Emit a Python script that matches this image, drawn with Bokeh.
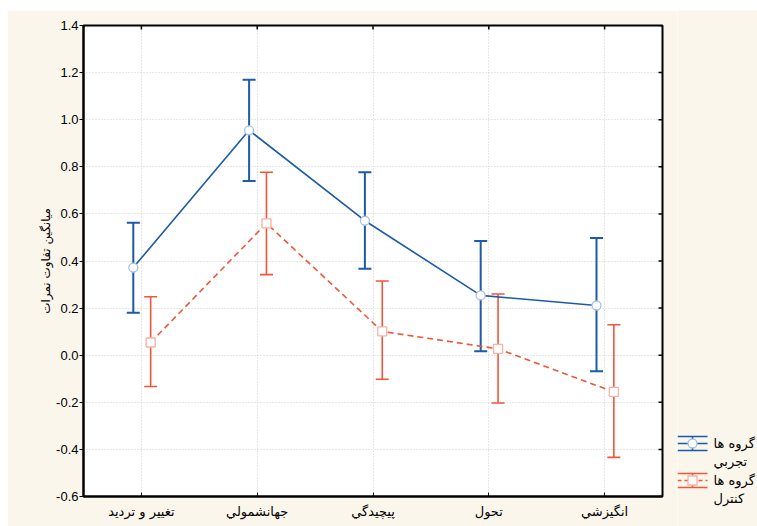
import math
from bokeh.plotting import figure
from bokeh.models import (Range1d, FixedTicker, Whisker, TeeHead, ColumnDataSource,
                          NumeralTickFormatter, Label)
from bokeh.layouts import row, column
from bokeh.embed import file_html
from bokeh.resources import INLINE

# ---------------- data ----------------
categories = ["تغيير و ترديد", "جهانشمولي", "پيچيدگي", "تحول", "انگيزشي"]
exp_mean = [0.372, 0.955, 0.571, 0.254, 0.211]
exp_upper = [0.562, 1.170, 0.777, 0.485, 0.498]
exp_lower = [0.180, 0.740, 0.367, 0.017, -0.068]
ctl_mean = [0.054, 0.560, 0.101, 0.027, -0.156]
ctl_upper = [0.248, 0.777, 0.315, 0.260, 0.129]
ctl_lower = [-0.133, 0.342, -0.102, -0.203, -0.434]
y_ticks = [-0.6, -0.4, -0.2, 0.0, 0.2, 0.4, 0.6, 0.8, 1.0, 1.2, 1.4]
y_label = "ميانگين تفاوت نمرات"
legend_labels = [("گروه ها", "تجربي"), ("گروه ها", "کنترل")]

BLUE = "#1c5aab"
RED = "#f0563a"
BLUE_LIGHT = "#a8c0e2"
RED_LIGHT = "#f6b2a3"
BG = "#fbf6ec"
FA_FONT = "DejaVu Sans"

pos = list(range(1, len(categories) + 1))
exp_x = [p - 0.07 for p in pos]
ctl_x = [p + 0.08 for p in pos]
X0, X1, Y0, Y1 = 0.5, 5.5, -0.6, 1.4

H = 516
p = figure(width=670, height=H, output_backend="svg", toolbar_location=None,
           x_range=Range1d(X0, X1), y_range=Range1d(Y0, Y1),
           min_border_left=76, min_border_top=15, min_border_right=15, min_border_bottom=30,
           x_axis_location="below", y_axis_location="left")
p.background_fill_color = "white"
p.border_fill_color = BG
p.outline_line_color = "black"
p.outline_line_width = 2

# axes
p.xaxis.ticker = FixedTicker(ticks=pos)
p.xaxis.major_label_overrides = {i: c for i, c in zip(pos, categories)}
p.xaxis.major_label_text_font = FA_FONT
p.xaxis.major_label_text_font_size = "13px"
p.xaxis.major_label_text_color = "black"
p.xaxis.major_label_standoff = 7
p.xaxis.major_tick_in = 4
p.xaxis.major_tick_out = 0
p.xaxis.minor_tick_line_color = None
p.xaxis.axis_line_width = 2
p.xaxis.axis_line_color = "black"

p.yaxis.ticker = FixedTicker(ticks=y_ticks)
p.yaxis.formatter = NumeralTickFormatter(format="0.0")
p.yaxis.major_label_text_font = "Liberation Sans"
p.yaxis.major_label_text_font_size = "13px"
p.yaxis.major_label_text_color = "black"
p.yaxis.major_tick_in = 0
p.yaxis.major_tick_out = 4
p.yaxis.major_label_standoff = 1
p.yaxis.minor_tick_line_color = None
p.yaxis.axis_line_width = 2
p.yaxis.axis_line_color = "black"
p.yaxis.axis_label = y_label
p.yaxis.axis_label_text_font = FA_FONT
p.yaxis.axis_label_text_font_style = "normal"
p.yaxis.axis_label_text_font_size = "12px"
p.yaxis.axis_label_text_color = "black"
p.yaxis.axis_label_standoff = 0

p.grid.grid_line_color = "#cfcfcf"
p.grid.grid_line_dash = "1 2"
p.grid.grid_line_width = 1

# inner tick marks on the right and top frame edges (dash markers clipped by the frame)
p.scatter([X1] * len(y_ticks), y_ticks, marker="dash", size=8, line_color="black",
          line_width=1.5)
p.scatter(pos, [Y1] * len(pos), marker="dash", size=8, angle=math.pi / 2,
          line_color="black", line_width=1.5)

# error bars
for xs, lo, hi, col, lw in [(exp_x, exp_lower, exp_upper, BLUE, 2),
                            (ctl_x, ctl_lower, ctl_upper, RED, 1.6)]:
    src = ColumnDataSource(dict(x=xs, lower=lo, upper=hi))
    w = Whisker(source=src, base="x", lower="lower", upper="upper",
                line_color=col, line_width=lw, level="underlay",
                upper_head=TeeHead(size=13, line_color=col, line_width=lw),
                lower_head=TeeHead(size=13, line_color=col, line_width=lw))
    p.add_layout(w)

# lines and markers
p.line(exp_x, exp_mean, line_color=BLUE, line_width=1.6)
p.line(ctl_x, ctl_mean, line_color=RED, line_width=1.6, line_dash="6 4")
p.scatter(exp_x, exp_mean, marker="circle", size=9, fill_color="white",
          line_color=BLUE_LIGHT, line_width=1.3)
p.scatter(ctl_x, ctl_mean, marker="square", size=9, fill_color="white",
          line_color=RED_LIGHT, line_width=1.3)

# ---------------- legend panel ----------------
# y range in window pixels (panel spans window y 10..526)
LW = 80
lg = figure(width=LW, height=H, output_backend="svg", toolbar_location=None,
            x_range=Range1d(0, LW), y_range=Range1d(10 + H, 10),
            min_border=0, x_axis_location=None, y_axis_location=None)
lg.background_fill_color = BG
lg.border_fill_color = BG
lg.outline_line_color = None
lg.grid.visible = False

def legend_entry(yc, col, light, marker, dash, l1, l2):
    lg.segment(x0=[0, 0], y0=[yc - 7, yc + 7], x1=[30, 30], y1=[yc - 7, yc + 7],
               line_color=col, line_width=1.6)
    lg.segment(x0=[15], y0=[yc - 7], x1=[15], y1=[yc + 7], line_color=col, line_width=1.6)
    lg.line([0, 30], [yc, yc], line_color=col, line_width=1.6, line_dash=dash)
    lg.scatter([15], [yc], marker=marker, size=9, fill_color="white",
               line_color=light, line_width=1.3)
    for txt, yy in [(l1, yc), (l2, yc + 18)]:
        lg.add_layout(Label(x=36, y=yy, text=txt, text_font=FA_FONT,
                            text_font_size="13px", text_baseline="middle",
                            text_align="left", text_color="black"))

legend_entry(443, BLUE, BLUE_LIGHT, "circle", "solid", *legend_labels[0])
legend_entry(480, RED, RED_LIGHT, "square", "4 3", *legend_labels[1])

layout = row(p, column(lg, spacing=0), spacing=0, margin=(10, 0, 0, 7))
open("out.html", "w").write(file_html(layout, INLINE))
